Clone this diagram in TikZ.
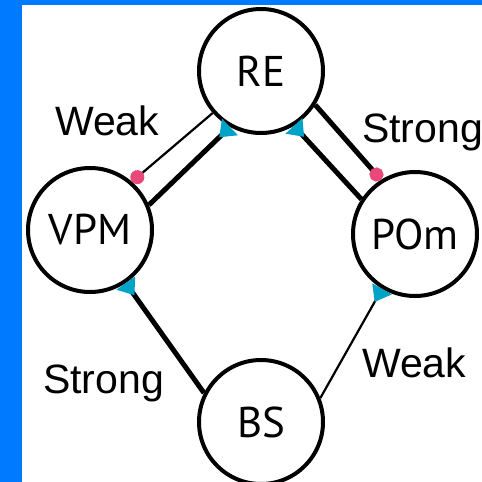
\documentclass[tikz,border=0pt]{standalone}
\usepackage{fontspec}
\setmainfont{Liberation Sans}
\newfontfamily\nodefont{PT Sans}
\usetikzlibrary{arrows.meta}
\definecolor{bordblue}{RGB}{0,122,255}
\definecolor{tcyan}{RGB}{0,163,200}
\definecolor{tpink}{RGB}{232,72,122}
\tikzset{
  area/.style={circle,draw=black,line width=4pt,minimum size=124pt,inner sep=0pt,
    font=\nodefont\fontsize{43}{43}\selectfont},
  lbl/.style={font=\fontsize{41}{41}\selectfont,inner sep=0pt},
  thin/.style={line width=2.2pt},
  thick/.style={line width=5pt},
  tri/.style={-{Triangle[reversed,length=15pt,width=22pt,color=tcyan]}},
  dotstart/.style={{Circle[length=14pt,color=tpink]}-},
  dotend/.style={-{Circle[length=14pt,color=tpink]}}
}
\begin{document}
\begin{tikzpicture}[x=1pt,y=-1pt]
\useasboundingbox (0,0) rectangle (482,482);
\fill[white] (0,0) rectangle (482,482);
\node[area] (RE) at (261,71) {RE};
\node[area] (VPM) at (90,230) {VPM};
\node[area] (POm) at (415,234) {POm};
\node[area] (BS) at (261,422) {BS};
\draw[thin,dotstart] (VPM.49) -- (RE.221);
\draw[thick,tri] (VPM.23.5) -- (RE.241.5);
\draw[thick,dotend] (RE.328.7) -- (POm.122);
\draw[thick,tri] (POm.147) -- (RE.301.5);
\draw[thick,tri] (BS.153.4) -- (VPM.304);
\draw[thin,tri] (BS.22) -- (POm.239);
\node[lbl,anchor=base west] (w1) at (55,135) {Weak};
\node[lbl,anchor=base west] (s1) at (362,142) {Strong};
\node[lbl,anchor=base west] (s2) at (43,393) {Strong};
\node[lbl,anchor=base west] (w2) at (362,377) {Weak};
\fill[bordblue] (0,0) rectangle (22,482);
\fill[bordblue] (0,0) rectangle (482,5);
\end{tikzpicture}
\end{document}
